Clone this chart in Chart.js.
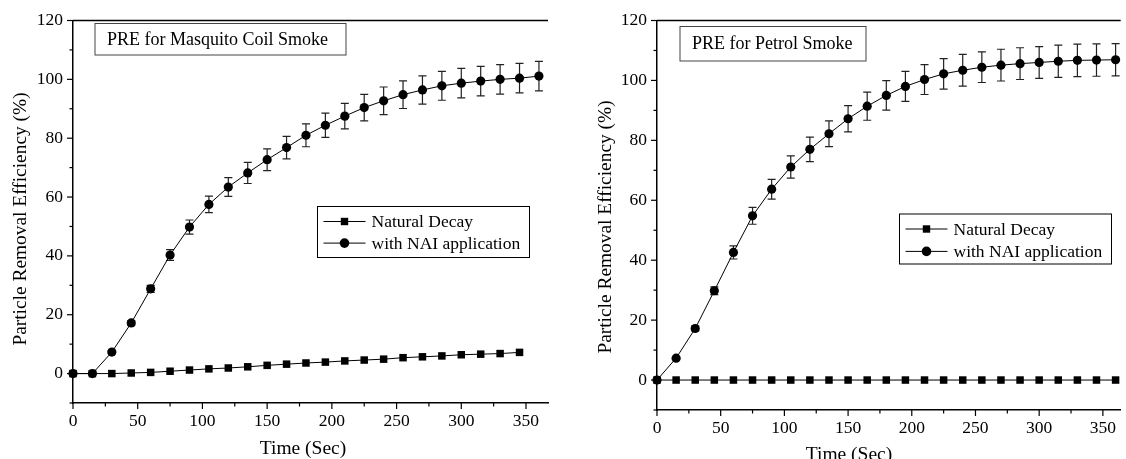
<!DOCTYPE html>
<html>
<head>
<meta charset="utf-8">
<script src="https://cdn.jsdelivr.net/npm/chart.js@4.4.0/dist/chart.umd.min.js"></script>
<style>
html, body { margin: 0; padding: 0; background: #fff; overflow: hidden; width: 1126px; height: 459px; }
.box { position: absolute; top: 0; }
</style>
</head>
<body>
<div class="box" style="left:0"><canvas id="coilChart" width="565" height="470"></canvas></div>
<div class="box" style="left:580px"><canvas id="petrolChart" width="546" height="470"></canvas></div>
<script>
// time axis, every 15 s
const times = [0, 15, 30, 45, 60, 75, 90, 105, 120, 135, 150, 165, 180, 195, 210, 225, 240, 255, 270, 285, 300, 315, 330, 345, 360];

// mosquito coil smoke
const coilNatural = [0, 0, 0, 0.2, 0.4, 0.8, 1.2, 1.6, 1.9, 2.3, 2.8, 3.2, 3.6, 3.9, 4.3, 4.6, 4.9, 5.4, 5.7, 6.0, 6.4, 6.6, 6.8, 7.2];
const coilNAI = [0, 0, 7.3, 17.2, 28.8, 40.3, 49.8, 57.5, 63.4, 68.2, 72.7, 76.8, 81.0, 84.4, 87.5, 90.4, 92.7, 94.8, 96.4, 97.8, 98.7, 99.4, 100.0, 100.4, 101.1];
const coilErr = [0, 0, 0.5, 0.8, 1.2, 1.8, 2.4, 2.8, 3.2, 3.6, 3.7, 3.8, 3.9, 4.1, 4.3, 4.5, 4.7, 4.7, 4.8, 4.9, 5.0, 5.0, 5.0, 5.0, 5.0];

// petrol smoke
const petrolNatural = [0, 0, 0, 0, 0, 0, 0, 0, 0, 0, 0, 0, 0, 0, 0, 0, 0, 0, 0, 0, 0, 0, 0, 0, 0];
const petrolNAI = [0, 7.3, 17.2, 29.8, 42.6, 54.8, 63.7, 71.1, 77.0, 82.2, 87.2, 91.4, 95.0, 98.0, 100.3, 102.2, 103.4, 104.4, 105.1, 105.6, 106.0, 106.4, 106.7, 106.8, 106.9];
const petrolErr = [0, 0.3, 0.8, 1.3, 2.2, 2.8, 3.3, 3.7, 4.1, 4.3, 4.4, 4.7, 4.9, 5.0, 5.0, 5.1, 5.3, 5.1, 5.3, 5.3, 5.3, 5.4, 5.4, 5.4, 5.4];

const yTicks = [0, 20, 40, 60, 80, 100, 120];
const xTicks = [0, 50, 100, 150, 200, 250, 300, 350];
const seriesNames = ['Natural Decay', 'with NAI application'];
const xTitle = 'Time (Sec)';
const yTitle = 'Particle Removal Efficiency (%)';

const FONT = '"Liberation Serif", "Times New Roman", Times, serif';

function toPoints(values) {
    return values.map((v, i) => ({ x: times[i], y: v }));
}

// error bars, minor/major ticks, top frame line, axis titles, note box and legend
const decorPlugin = {
    id: 'decor',
    beforeDatasetsDraw(chart) {
        const ctx = chart.ctx;
        const ys = chart.scales.y;
        chart.data.datasets.forEach((ds, di) => {
            if (!ds.errors) return;
            const meta = chart.getDatasetMeta(di);
            ctx.save();
            ctx.strokeStyle = '#222';
            ctx.lineWidth = 1.2;
            meta.data.forEach((pt, i) => {
                const e = ds.errors[i];
                if (!e) return;
                const v = ds.data[i].y;
                const top = ys.getPixelForValue(v + e);
                const bot = ys.getPixelForValue(v - e);
                ctx.beginPath();
                ctx.moveTo(pt.x, top); ctx.lineTo(pt.x, bot);
                ctx.moveTo(pt.x - 4, top); ctx.lineTo(pt.x + 4, top);
                ctx.moveTo(pt.x - 4, bot); ctx.lineTo(pt.x + 4, bot);
                ctx.stroke();
            });
            ctx.restore();
        });
    },
    afterDraw(chart, args, o) {
        const ctx = chart.ctx;
        const area = chart.chartArea;
        const xs = chart.scales.x, ys = chart.scales.y;
        ctx.save();
        ctx.strokeStyle = '#000';
        ctx.lineWidth = 1.5;
        // top frame line
        ctx.beginPath();
        ctx.moveTo(area.left, area.top);
        ctx.lineTo(area.right, area.top);
        ctx.stroke();
        // tick marks (outside)
        ctx.lineWidth = 1.2;
        ys.ticks.forEach(t => {
            const py = ys.getPixelForValue(t.value);
            const len = t.value % 20 === 0 ? 6 : 3.5;
            ctx.beginPath(); ctx.moveTo(area.left - len, py); ctx.lineTo(area.left, py); ctx.stroke();
        });
        xs.ticks.forEach(t => {
            const px = xs.getPixelForValue(t.value);
            const len = t.value % 50 === 0 ? 6 : 3.5;
            ctx.beginPath(); ctx.moveTo(px, area.bottom); ctx.lineTo(px, area.bottom + len); ctx.stroke();
        });

        // axis titles
        ctx.fillStyle = '#000';
        ctx.textAlign = 'center';
        ctx.textBaseline = 'middle';
        ctx.font = '19.5px ' + FONT;
        ctx.fillText(xTitle, o.xTitle.x, o.xTitle.y);
        ctx.save();
        ctx.translate(o.yTitle.x, o.yTitle.y);
        ctx.rotate(-Math.PI / 2);
        ctx.font = '19.4px ' + FONT;
        ctx.fillText(yTitle, 0, 0);
        ctx.restore();

        // note box
        const n = o.note;
        ctx.lineWidth = 1;
        ctx.strokeStyle = '#444';
        ctx.strokeRect(n.x, n.y, n.w, n.h);
        ctx.fillStyle = '#000';
        ctx.font = '18px ' + FONT;
        ctx.textAlign = 'left';
        ctx.fillText(n.text, n.x + 12, n.y + n.h / 2 + 1);

        // legend
        const l = o.legend;
        ctx.strokeStyle = '#000';
        ctx.fillStyle = '#fff';
        ctx.fillRect(l.x, l.y, l.w, l.h);
        ctx.strokeRect(l.x, l.y, l.w, l.h);
        ctx.font = '17.5px ' + FONT;
        seriesNames.forEach((name, i) => {
            const ry = l.y + 15 + i * l.gap;
            ctx.strokeStyle = '#000';
            ctx.lineWidth = 1;
            ctx.beginPath(); ctx.moveTo(l.x + 6, ry); ctx.lineTo(l.x + 48, ry); ctx.stroke();
            ctx.fillStyle = '#000';
            if (i === 0) {
                ctx.fillRect(l.x + 27 - 3.7, ry - 3.7, 7.4, 7.4);
            } else {
                ctx.beginPath(); ctx.arc(l.x + 27, ry, 4.8, 0, Math.PI * 2); ctx.fill();
            }
            ctx.fillText(name, l.x + 54, ry + 1);
        });
        ctx.restore();
    }
};

function makeChart(id, natural, nai, err, cfg) {
    const ctx = document.getElementById(id).getContext('2d');
    return new Chart(ctx, {
        type: 'line',
        data: {
            datasets: [{
                label: seriesNames[0],
                data: toPoints(natural),
                borderColor: '#000',
                backgroundColor: '#000',
                borderWidth: 1,
                pointStyle: 'rect',
                pointRadius: 5.3,
                pointBorderWidth: 0,
                clip: false
            },
            {
                label: seriesNames[1],
                data: toPoints(nai),
                errors: err,
                borderColor: '#000',
                backgroundColor: '#000',
                borderWidth: 1,
                pointStyle: 'circle',
                pointRadius: 4.6,
                pointBorderWidth: 0,
                clip: false
            }]
        },
        options: {
            responsive: false,
            animation: false,
            layout: {
                padding: { top: cfg.top, right: cfg.right, left: 0, bottom: 0 }
            },
            plugins: {
                legend: { display: false },
                tooltip: { enabled: false },
                decor: { note: cfg.note, legend: cfg.legend, xTitle: cfg.xTitle, yTitle: cfg.yTitle }
            },
            scales: {
                x: {
                    type: 'linear',
                    min: 0,
                    max: cfg.xMax,
                    afterFit: s => { s.height = cfg.xHeight; },
                    grid: { display: false, drawTicks: false },
                    border: { display: true, color: '#000', width: 1.5 },
                    ticks: {
                        stepSize: 25,
                        includeBounds: false,
                        autoSkip: false,
                        maxRotation: 0,
                        padding: 8,
                        color: '#000',
                        font: { family: FONT, size: 17.5 },
                        callback: v => xTicks.includes(v) ? v : ''
                    }
                },
                y: {
                    min: -10,
                    max: 120,
                    afterFit: s => { s.width = cfg.yWidth; },
                    grid: { display: false, drawTicks: false },
                    border: { display: true, color: '#000', width: 1.5 },
                    ticks: {
                        stepSize: 10,
                        autoSkip: false,
                        padding: 10,
                        color: '#000',
                        font: { family: FONT, size: 17.5 },
                        callback: v => yTicks.includes(v) ? v : ''
                    }
                }
            }
        },
        plugins: [decorPlugin]
    });
}

makeChart('coilChart', coilNatural, coilNAI, coilErr, {
    top: 16, right: 17, xMax: 367, xHeight: 67, yWidth: 73,
    xTitle: { x: 303, y: 449 },
    yTitle: { x: 21, y: 219 },
    note: { x: 95, y: 23.5, w: 251, h: 31.5, text: 'PRE for Masquito Coil Smoke' },
    legend: { x: 317.5, y: 206.5, w: 212, h: 51, gap: 21.6 }
});

makeChart('petrolChart', petrolNatural, petrolNAI, petrolErr, {
    top: 20, right: 0, xMax: 364, xHeight: 60, yWidth: 77,
    xTitle: { x: 269, y: 455 },
    yTitle: { x: 26, y: 227 },
    note: { x: 100, y: 26.5, w: 186, h: 34.5, text: 'PRE for Petrol Smoke' },
    legend: { x: 319.5, y: 214, w: 212, h: 50, gap: 22.4 }
});
</script>
</body>
</html>
